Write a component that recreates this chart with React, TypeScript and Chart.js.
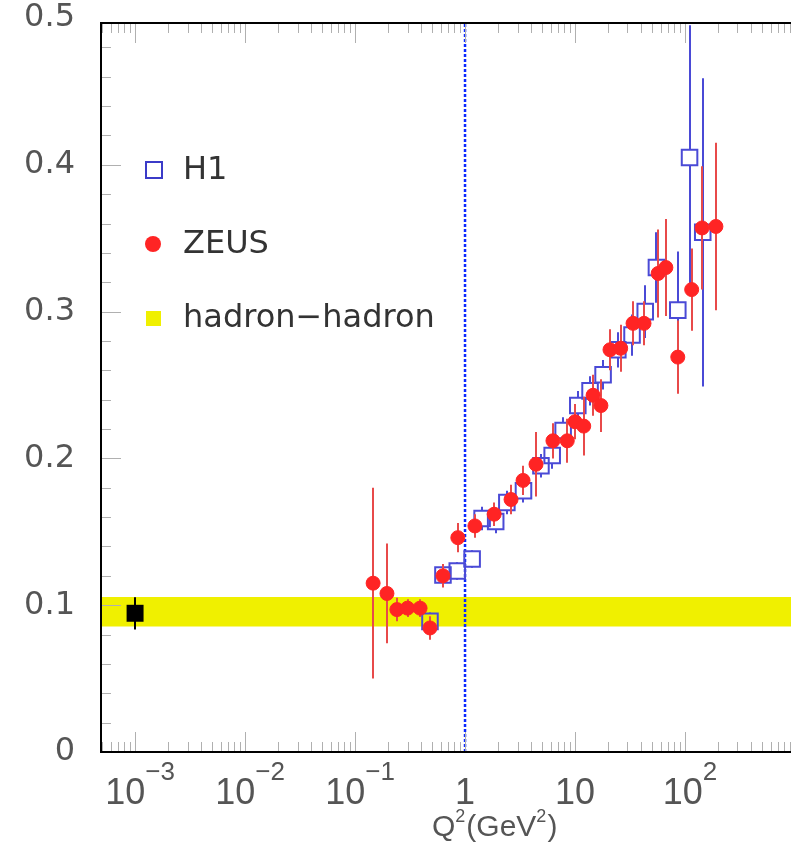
import React, { useEffect, useRef } from "react";
import { Chart, registerables } from "chart.js";

Chart.register(...registerables);

// ---------- axis ranges ----------
const X_MIN = 4.9e-4;
const X_MAX = 920;
const Y_MIN = 0;
const Y_MAX = 0.4966;

// ---------- tick labels ----------
const Y_TICKS = [0, 0.1, 0.2, 0.3, 0.4, 0.5];
const Y_TICK_LABELS = ["0", "0.1", "0.2", "0.3", "0.4", "0.5"];
const X_TICK_VALUES = [1e-3, 1e-2, 1e-1, 1, 10, 100];
const X_TICK_BASE = ["10", "10", "10", "1", "10", "10"];
const X_TICK_EXP = ["\u22123", "\u22122", "\u22121", "", "", "2"];
const X_TITLE_PARTS = ["Q", "2", "(GeV", "2", ")"];

const LEGEND_LABELS = ["H1", "ZEUS", "hadron\u2212hadron"];

// ---------- H1 (open squares) ----------
const H1_Q2 = [0.48, 0.63, 0.85, 1.16, 1.43, 1.9, 2.4, 3.4, 4.9, 6.2, 7.8, 10.6, 13.7, 18, 24.5, 33, 43.5, 55, 86, 110, 145];
const H1_VAL = [0.089, 0.1206, 0.1233, 0.1315, 0.159, 0.157, 0.17, 0.178, 0.195, 0.202, 0.219, 0.236, 0.246, 0.257, 0.274, 0.284, 0.3, 0.33, 0.301, 0.405, 0.354];
const H1_ERR = [0.006, 0.006, 0.006, 0.006, 0.008, 0.008, 0.008, 0.008, 0.008, 0.009, 0.009, 0.01, 0.01, 0.01, 0.012, 0.014, 0.018, 0.024, 0.04, 0.09, 0.105];

// ---------- ZEUS (filled circles) ----------
const ZEUS_Q2 = [0.146, 0.195, 0.24, 0.3, 0.39, 0.48, 0.63, 0.86, 1.23, 1.84, 2.62, 3.37, 4.42, 6.3, 8.5, 10, 12, 14.6, 17.2, 20.8, 26, 33.7, 42.4, 57, 67, 86, 115, 143, 191];
const ZEUS_VAL = [0.115, 0.108, 0.097, 0.098, 0.098, 0.0845, 0.12, 0.146, 0.154, 0.162, 0.172, 0.185, 0.196, 0.212, 0.212, 0.225, 0.222, 0.243, 0.236, 0.274, 0.275, 0.292, 0.292, 0.326, 0.33, 0.269, 0.315, 0.357, 0.358];
const ZEUS_ERR = [0.065, 0.034, 0.008, 0.006, 0.006, 0.008, 0.008, 0.01, 0.008, 0.008, 0.01, 0.01, 0.022, 0.012, 0.015, 0.012, 0.02, 0.014, 0.018, 0.014, 0.016, 0.015, 0.015, 0.03, 0.033, 0.025, 0.028, 0.042, 0.057];

// ---------- hadron-hadron ----------
const HH_Q2 = [1e-3];
const HH_VAL = [0.0945];
const HH_ERR = [0.011];
const BAND_LOW = 0.0855;
const BAND_HIGH = 0.1056;

// ---------- vertical marker ----------
const VLINE_X = 1;

const BLUE = "#4a4ad6";
const RED = "#ff2424";
const RED_BAR = "#e84a4a";
const YELLOW = "#f0f000";

const toPoints = (xs: number[], ys: number[]) => xs.map((x, i) => ({ x, y: ys[i] }));

const decorPlugin = {
  id: "decor",
  beforeDatasetDraw(chart: any, args: any) {
    const ds = chart.data.datasets[args.index];
    if (!ds.errors) return;
    const { ctx, chartArea } = chart;
    const yScale = chart.scales.y;
    ctx.save();
    ctx.beginPath();
    ctx.rect(chartArea.left, chartArea.top, chartArea.right - chartArea.left, chartArea.bottom - chartArea.top);
    ctx.clip();
    ctx.strokeStyle = ds.errorColor;
    ctx.lineWidth = 2;
    const gap = ds.errorGap || 0;
    args.meta.data.forEach((el: any, i: number) => {
      const v = ds.data[i].y;
      const e = ds.errors[i];
      const yt = yScale.getPixelForValue(v + e);
      const yb = yScale.getPixelForValue(v - e);
      const x = Math.round(el.x);
      ctx.beginPath();
      if (gap > 0) {
        if (el.y - gap > yt) {
          ctx.moveTo(x, yt);
          ctx.lineTo(x, el.y - gap);
        }
        if (el.y + gap < yb) {
          ctx.moveTo(x, el.y + gap);
          ctx.lineTo(x, yb);
        }
      } else {
        ctx.moveTo(x, yt);
        ctx.lineTo(x, yb);
      }
      ctx.stroke();
    });
    ctx.restore();
  },
  afterDatasetsDraw(chart: any) {
    const { ctx, chartArea } = chart;
    const xs = chart.scales.x;
    const ys = chart.scales.y;
    const { left, right, top, bottom } = chartArea;
    ctx.save();
    // minor / major ticks
    ctx.strokeStyle = "#b0b0b0";
    ctx.lineWidth = 1;
    ctx.beginPath();
    for (let d = -4; d <= 3; d++) {
      for (let k = 1; k <= 9; k++) {
        const v = k * Math.pow(10, d);
        if (v < X_MIN || v > X_MAX) continue;
        const px = Math.round(xs.getPixelForValue(v)) + 0.5;
        const len = k === 1 ? 20 : 10;
        ctx.moveTo(px, bottom);
        ctx.lineTo(px, bottom - len);
        ctx.moveTo(px, top);
        ctx.lineTo(px, top + len);
      }
    }
    for (let j = 0; j <= 25; j++) {
      const v = j * 0.02;
      if (v > Y_MAX) continue;
      const py = Math.round(ys.getPixelForValue(v)) + 0.5;
      const len = j % 5 === 0 ? 20 : 10;
      ctx.moveTo(left, py);
      ctx.lineTo(left + len, py);
    }
    ctx.stroke();
    // frame
    ctx.strokeStyle = "#000";
    ctx.lineWidth = 2;
    ctx.beginPath();
    ctx.moveTo(right + 2, top);
    ctx.lineTo(left, top);
    ctx.lineTo(left, bottom);
    ctx.lineTo(right + 2, bottom);
    ctx.stroke();
    ctx.restore();
  },
  afterDraw(chart: any) {
    const { ctx } = chart;
    const xs = chart.scales.x;
    ctx.save();
    ctx.fillStyle = "#555";
    ctx.textAlign = "left";
    ctx.textBaseline = "alphabetic";
    const baseFont = "36px 'Liberation Sans', Arial, sans-serif";
    const expFont = "26px 'Liberation Sans', Arial, sans-serif";
    X_TICK_VALUES.forEach((v, i) => {
      const px = xs.getPixelForValue(v);
      ctx.font = baseFont;
      const wb = ctx.measureText(X_TICK_BASE[i]).width;
      ctx.font = expFont;
      const we = X_TICK_EXP[i] ? ctx.measureText(X_TICK_EXP[i]).width : 0;
      const sx = px - (wb + we) / 2 + (X_TICK_EXP[i] ? 5 : 0);
      ctx.font = baseFont;
      ctx.fillText(X_TICK_BASE[i], sx, 804);
      if (X_TICK_EXP[i]) {
        ctx.font = expFont;
        ctx.fillText(X_TICK_EXP[i], sx + wb, 780);
      }
    });
    // axis title Q^2(GeV^2)
    const tBig = "30px 'Liberation Sans', Arial, sans-serif";
    const tSmall = "18px 'Liberation Sans', Arial, sans-serif";
    let tx = 432;
    X_TITLE_PARTS.forEach((p, i) => {
      const sup = i === 1 || i === 3;
      ctx.font = sup ? tSmall : tBig;
      ctx.fillText(p, tx, sup ? 822 : 836);
      tx += ctx.measureText(p).width + (sup ? 1 : 0);
    });
    // legend
    ctx.lineWidth = 2;
    ctx.strokeStyle = "#3b3bc8";
    ctx.strokeRect(146, 162, 16, 16);
    ctx.fillStyle = RED;
    ctx.beginPath();
    ctx.arc(153, 244, 8, 0, Math.PI * 2);
    ctx.fill();
    ctx.fillStyle = YELLOW;
    ctx.fillRect(146, 311, 15, 15);
    ctx.fillStyle = "#333";
    ctx.font = "32px 'DejaVu Sans', sans-serif";
    ctx.textBaseline = "middle";
    ctx.fillText(LEGEND_LABELS[0], 183, 171);
    ctx.fillText(LEGEND_LABELS[1], 183, 245);
    ctx.fillText(LEGEND_LABELS[2], 183, 319);
    ctx.restore();
  },
};

export default function App() {
  const ref = useRef<HTMLCanvasElement | null>(null);
  useEffect(() => {
    if (!ref.current) return;
    const chart = new Chart(ref.current, {
      type: "scatter",
      data: {
        datasets: [
          {
            label: "ZEUS",
            data: toPoints(ZEUS_Q2, ZEUS_VAL),
            errors: ZEUS_ERR,
            errorColor: RED_BAR,
            pointStyle: "circle",
            pointRadius: 7,
            pointBorderWidth: 1,
            backgroundColor: RED,
            borderColor: RED,
            showLine: false,
          } as any,
          {
            label: "H1",
            data: toPoints(H1_Q2, H1_VAL),
            errors: H1_ERR,
            errorColor: BLUE,
            errorGap: 8,
            pointStyle: "rect",
            pointRadius: 11,
            pointBorderWidth: 2,
            backgroundColor: "rgba(0,0,0,0)",
            borderColor: BLUE,
            showLine: false,
          } as any,
          {
            label: "hadron-hadron point",
            data: toPoints(HH_Q2, HH_VAL),
            errors: HH_ERR,
            errorColor: "#000",
            pointStyle: "rect",
            pointRadius: 12,
            pointBorderWidth: 0,
            backgroundColor: "#000",
            borderColor: "#000",
            showLine: false,
          } as any,
          {
            label: "Q2=1",
            data: [
              { x: VLINE_X, y: Y_MIN },
              { x: VLINE_X, y: Y_MAX },
            ],
            showLine: true,
            borderColor: "#0a28ff",
            borderWidth: 2.5,
            borderDash: [3, 2],
            pointRadius: 0,
            fill: false,
          } as any,
          {
            label: "band high",
            data: [
              { x: X_MIN, y: BAND_HIGH },
              { x: X_MAX, y: BAND_HIGH },
            ],
            showLine: true,
            borderColor: "rgba(0,0,0,0)",
            borderWidth: 1,
            pointRadius: 0,
            backgroundColor: YELLOW,
            fill: "+1",
          } as any,
          {
            label: "band low",
            data: [
              { x: X_MIN, y: BAND_LOW },
              { x: X_MAX, y: BAND_LOW },
            ],
            showLine: true,
            borderColor: "rgba(0,0,0,0)",
            borderWidth: 1,
            pointRadius: 0,
            backgroundColor: YELLOW,
            fill: false,
          } as any,
        ],
      },
      options: {
        animation: false,
        responsive: false,
        maintainAspectRatio: false,
        devicePixelRatio: 1,
        events: [],
        layout: { autoPadding: false, padding: { top: 23, left: 0, right: 0, bottom: 0 } },
        plugins: {
          legend: { display: false },
          tooltip: { enabled: false },
        },
        scales: {
          x: {
            type: "logarithmic",
            min: X_MIN,
            max: X_MAX,
            grid: { display: false },
            border: { display: false },
            ticks: { display: false },
            afterFit: (s: any) => {
              s.height = 92;
              s.paddingLeft = 0;
              s.paddingRight = 0;
            },
          },
          y: {
            type: "linear",
            min: Y_MIN,
            max: Y_MAX,
            grid: { display: false, drawTicks: false },
            border: { display: false },
            ticks: {
              autoSkip: false,
              padding: 26,
              color: "#555",
              font: { family: "'DejaVu Sans', sans-serif", size: 32 },
              callback: (_v: any, i: number) => Y_TICK_LABELS[i],
            },
            afterBuildTicks: (s: any) => {
              s.ticks = Y_TICKS.map((v) => ({ value: v }));
            },
            afterFit: (s: any) => {
              s.width = 101;
              s.paddingTop = 0;
              s.paddingBottom = 0;
            },
          },
        },
      } as any,
      plugins: [decorPlugin],
    });
    return () => chart.destroy();
  }, []);
  return (
    <div style={{ position: "absolute", left: 0, top: 0, width: 791, height: 844, background: "#fff" }}>
      <canvas ref={ref} width={791} height={844} style={{ display: "block" }} />
    </div>
  );
}
